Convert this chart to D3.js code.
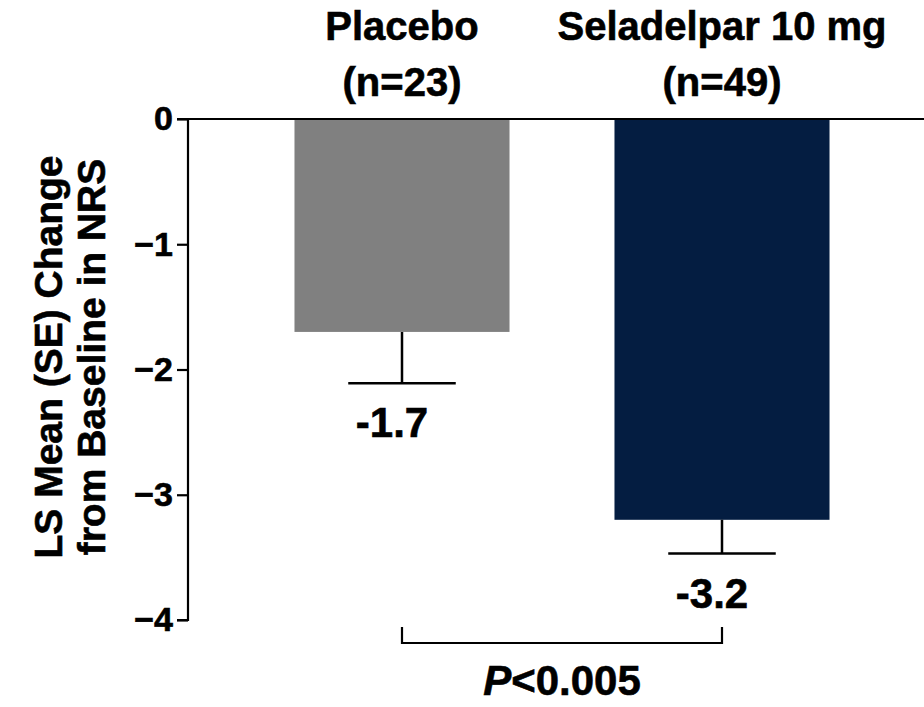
<!DOCTYPE html>
<html lang="en">
<head>
    <meta charset="UTF-8">
    <title>LS Mean Change in NRS</title>
    <script src="https://cdn.jsdelivr.net/npm/d3@7"></script>
    <style>
        body {
            margin: 0;
            background-color: #fff;
            font-family: 'Liberation Sans', Arial, sans-serif;
        }
        svg text {
            font-weight: bold;
            fill: #000;
            stroke: #000;
            stroke-width: 0.6px;
        }
    </style>
</head>
<body>
    <svg id="chart"></svg>

    <script>
        // chart data
        const groups = ["Placebo", "Seladelpar 10 mg"];
        const nLabels = ["(n=23)", "(n=49)"];
        const means = [-1.7, -3.2];
        const errors = [0.41, 0.27];
        const valueLabels = ["-1.7", "-3.2"];
        const colors = ["#808080", "#041d41"];
        const yTicks = [0, -1, -2, -3, -4];
        const yTitle = ["LS Mean (SE) Change", "from Baseline in NRS"];
        const pLabel = "<0.005";

        const width = 924;
        const height = 707;

        const svg = d3.select("#chart")
            .attr("width", width)
            .attr("height", height);

        const axisX = 188;

        const y = d3.scaleLinear()
            .domain([0, -4])
            .range([119, 620]);

        const x = d3.scaleBand()
            .domain(groups)
            .range([242, 882])
            .paddingInner(0.328)
            .paddingOuter(0.164);

        // y axis
        const yAxis = d3.axisLeft(y)
            .tickValues(yTicks)
            .tickFormat(d => d === 0 ? "0" : "\u2212" + Math.abs(d))
            .tickSize(11)
            .tickPadding(4);

        const gy = svg.append("g")
            .attr("transform", `translate(${axisX},0)`)
            .call(yAxis);
        gy.select(".domain").attr("stroke", "#000").attr("stroke-width", 2.2)
            .attr("d", `M-11,${y(0)}H0V${y(-4)}H-11`);
        gy.selectAll(".tick line").attr("stroke", "#000").attr("stroke-width", 2.2);
        gy.selectAll(".tick text")
            .attr("font-family", "'Liberation Sans', Arial, sans-serif")
            .attr("font-size", 34)
            .attr("font-weight", "bold")
            .attr("fill", "#000");

        // zero line across the plot
        svg.append("line")
            .attr("x1", axisX)
            .attr("x2", width)
            .attr("y1", y(0))
            .attr("y2", y(0))
            .attr("stroke", "#000")
            .attr("stroke-width", 2.2);

        // bars
        svg.selectAll(".bar")
            .data(groups)
            .enter().append("rect")
            .attr("class", "bar")
            .attr("x", d => x(d))
            .attr("width", x.bandwidth())
            .attr("y", y(0) + 1)
            .attr("height", (d, i) => y(means[i]) - y(0) - 1)
            .attr("fill", (d, i) => colors[i]);

        // error bars
        const cx = d => x(d) + x.bandwidth() / 2;
        const capHalf = x.bandwidth() / 4;

        svg.selectAll(".err")
            .data(groups)
            .enter().append("path")
            .attr("class", "err")
            .attr("fill", "none")
            .attr("stroke", "#000")
            .attr("stroke-width", 2.5)
            .attr("d", (d, i) => {
                const lo = y(means[i] - errors[i]);
                return `M${cx(d)},${y(means[i])}V${lo}M${cx(d) - capHalf},${lo}H${cx(d) + capHalf}`;
            });

        // value labels
        svg.selectAll(".val")
            .data(groups)
            .enter().append("text")
            .attr("class", "val")
            .attr("x", d => cx(d) - 10)
            .attr("y", (d, i) => y(means[i] - errors[i]) + 54)
            .attr("text-anchor", "middle")
            .attr("font-size", 42)
            .text((d, i) => valueLabels[i]);

        // group headers
        svg.selectAll(".grp")
            .data(groups)
            .enter().append("text")
            .attr("class", "grp")
            .attr("x", d => cx(d))
            .attr("y", 40)
            .attr("text-anchor", "middle")
            .attr("font-size", 40)
            .text(d => d);

        svg.selectAll(".nlab")
            .data(groups)
            .enter().append("text")
            .attr("class", "nlab")
            .attr("x", d => cx(d))
            .attr("y", 96)
            .attr("text-anchor", "middle")
            .attr("font-size", 40)
            .text((d, i) => nLabels[i]);

        // y title
        const title = svg.append("text")
            .attr("transform", "translate(0,357) rotate(-90)")
            .attr("text-anchor", "middle")
            .attr("font-size", 39);
        title.selectAll("tspan")
            .data(yTitle)
            .enter().append("tspan")
            .attr("x", 0)
            .attr("y", (d, i) => 62 + i * 43)
            .text(d => d);

        // significance bracket
        const bx1 = cx(groups[0]);
        const bx2 = cx(groups[1]);
        svg.append("path")
            .attr("fill", "none")
            .attr("stroke", "#000")
            .attr("stroke-width", 2.2)
            .attr("d", `M${bx1},627V643H${bx2}V627`);

        const pText = svg.append("text")
            .attr("x", (bx1 + bx2) / 2)
            .attr("y", 695)
            .attr("text-anchor", "middle")
            .attr("font-size", 42);
        pText.append("tspan").attr("font-style", "italic").text("P");
        pText.append("tspan").text(pLabel);
    </script>
</body>
</html>
